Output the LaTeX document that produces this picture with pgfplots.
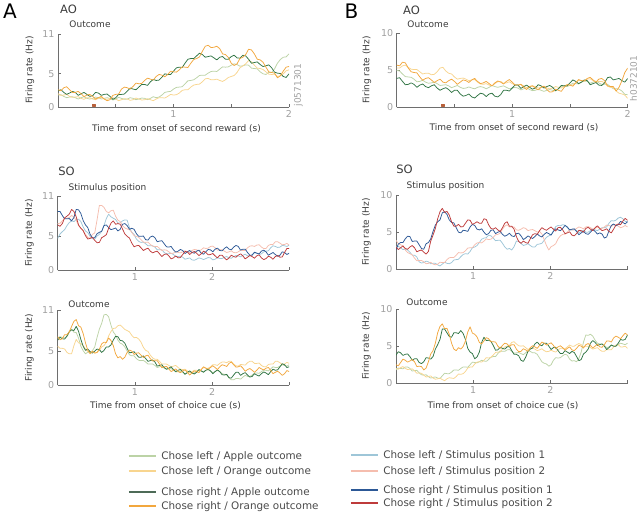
\documentclass[border=0pt]{standalone}
\usepackage{fontspec}
\setmainfont{DejaVu Sans}
\usepackage{pgfplots}
\usepackage{pgfplotstable}
\pgfplotsset{compat=1.18}

\definecolor{axgray}{HTML}{6E6E6E}
\definecolor{lblgray}{HTML}{A0A0A0}
\definecolor{txtgray}{HTML}{3A3A3A}
\definecolor{legtext}{HTML}{4A4A4A}
\definecolor{lgcol}{HTML}{BCD3A6}
\definecolor{locol}{HTML}{F8D58F}
\definecolor{dgcol}{HTML}{2F7443}
\definecolor{orcol}{HTML}{F2A73E}
\definecolor{dglegend}{HTML}{4D6B57}
\definecolor{lbcol}{HTML}{9EC6D8}
\definecolor{lpcol}{HTML}{F5BDAE}
\definecolor{dbcol}{HTML}{2C5896}
\definecolor{redtwo}{HTML}{BE3B3B}
\definecolor{mkcol}{HTML}{B8603A}

\pgfplotstableread{
x lg lo dg or
0.000 1.8 2.0 2.4 2.6
0.025 1.85 1.75 2.6 2.45
0.050 1.6 1.8 2.2 2.9
0.075 1.4 1.9 1.9 3.05
0.100 1.5 1.6 2.1 2.6
0.125 1.55 1.45 2.35 2.2
0.150 1.4 1.5 2.2 2.2
0.175 1.2 1.55 1.75 2.35
0.200 1.4 1.3 2.0 2.0
0.225 1.55 1.15 2.2 1.55
0.250 1.3 1.4 1.9 1.8
0.275 1.2 1.4 1.6 1.9
0.300 1.3 1.2 1.7 1.6
0.325 1.5 1.1 2.2 1.2
0.350 1.4 1.3 2.1 1.4
0.375 1.2 1.45 1.75 1.6
0.400 1.3 1.2 1.9 1.2
0.425 1.4 1.15 1.95 0.95
0.450 1.3 1.3 1.6 1.1
0.475 1.05 1.4 1.15 1.75
0.500 1.2 1.2 1.4 1.9
0.525 1.45 0.95 1.9 1.95
0.550 1.3 1.1 1.9 2.7
0.575 1.15 1.25 1.95 3.0
0.600 1.2 1.2 2.4 2.9
0.625 1.4 1.0 2.85 2.7
0.650 1.3 1.1 2.7 3.1
0.675 1.1 1.35 2.6 3.6
0.700 1.2 1.2 3.0 3.5
0.725 1.35 1.05 3.4 3.55
0.750 1.3 1.1 3.4 4.0
0.775 1.1 1.25 3.25 4.35
0.800 1.3 1.1 3.8 4.2
0.825 1.55 0.95 4.15 4.05
0.850 1.4 1.2 4.0 4.6
0.875 1.5 1.4 4.05 4.9
0.900 1.8 1.4 4.5 4.8
0.925 2.2 1.35 5.0 4.55
0.950 2.3 1.6 4.9 4.9
0.975 2.35 1.9 4.9 5.4
1.000 2.7 1.8 5.4 5.3
1.025 2.95 1.85 5.9 5.25
1.050 3.0 2.1 6.0 5.6
1.075 3.05 2.5 5.95 6.05
1.100 3.5 2.6 6.6 6.0
1.125 3.95 2.6 7.2 5.95
1.150 4.0 3.0 7.3 6.6
1.175 4.1 3.3 7.3 7.15
1.200 4.4 3.4 7.7 7.3
1.225 4.75 3.45 8.1 7.55
1.250 4.8 3.8 7.9 8.4
1.275 4.8 4.25 7.5 9.15
1.300 5.1 4.3 7.6 9.3
1.325 5.35 4.1 7.7 8.95
1.350 5.4 4.1 7.4 9.0
1.375 5.35 4.2 7.1 9.15
1.400 5.7 4.0 7.5 8.8
1.425 6.05 3.85 7.6 8.0
1.450 6.0 4.1 7.2 7.9
1.475 6.05 4.45 7.2 7.45
1.500 6.3 4.6 7.6 6.6
1.525 6.5 4.75 7.8 6.25
1.550 6.4 5.2 7.4 6.5
1.575 6.15 5.9 7.35 7.3
1.600 6.2 6.2 7.8 7.5
1.625 6.35 6.5 7.7 7.9
1.650 6.3 7.0 7.2 8.7
1.675 5.85 6.8 6.6 8.6
1.700 5.8 6.3 6.7 8.0
1.725 5.75 5.85 6.8 7.2
1.750 5.3 5.8 6.4 7.1
1.775 5.0 5.65 6.1 6.75
1.800 4.9 5.3 6.2 6.0
1.825 5.2 4.95 6.35 5.3
1.850 5.2 4.9 5.9 5.2
1.875 5.75 4.95 5.25 5.1
1.900 6.6 4.6 5.1 4.4
1.925 7.15 4.7 5.05 4.7
1.950 7.5 5.0 4.6 5.4
1.975 7.55 5.45 4.45 6.0
2.000 8.0 5.6 5.0 6.1
}\tAAO

\pgfplotstableread{
x lg lo dg or
0.000 5.0 5.3 3.9 5.7
0.025 4.9 5.3 4.0 5.6
0.050 4.5 5.6 3.5 6.1
0.075 4.15 5.7 3.05 6.0
0.100 4.1 5.4 3.1 5.3
0.125 4.05 5.15 3.3 4.8
0.150 3.8 5.1 3.1 4.7
0.175 3.45 5.1 2.7 4.65
0.200 3.5 4.8 3.0 4.1
0.225 3.65 4.5 3.15 3.65
0.250 3.4 4.6 2.8 3.9
0.275 3.25 4.6 2.65 4.0
0.300 3.3 4.4 2.9 3.7
0.325 3.4 4.45 3.05 3.35
0.350 3.2 4.8 2.6 3.6
0.375 2.95 5.3 2.3 3.8
0.400 3.0 5.4 2.5 3.4
0.425 3.05 4.9 2.65 3.3
0.450 2.9 4.6 2.4 3.6
0.475 2.65 4.5 2.0 3.8
0.500 2.8 4.1 2.3 3.5
0.525 2.95 3.8 2.3 3.1
0.550 2.7 3.9 1.8 3.4
0.575 2.55 3.95 1.5 3.7
0.600 2.6 3.8 1.6 3.6
0.625 2.75 3.6 1.8 3.35
0.650 2.6 3.7 1.4 3.7
0.675 2.5 3.75 1.25 3.9
0.700 2.7 3.4 1.6 3.5
0.725 2.8 3.15 1.9 3.2
0.750 2.7 3.1 1.8 3.3
0.775 2.5 3.2 1.45 3.5
0.800 2.7 3.0 1.8 3.2
0.825 2.95 2.9 1.9 2.9
0.850 2.8 3.2 1.5 3.3
0.875 2.7 3.45 1.4 3.55
0.900 2.8 3.5 1.7 3.4
0.925 2.9 3.25 2.3 3.15
0.950 2.7 3.3 2.3 3.5
0.975 2.5 3.45 2.2 3.75
1.000 2.6 3.2 2.6 3.4
1.025 2.7 3.0 3.0 3.0
1.050 2.6 3.0 3.0 3.0
1.075 2.35 3.1 2.55 3.1
1.100 2.5 2.9 2.8 2.7
1.125 2.65 2.65 3.0 2.4
1.150 2.4 2.8 2.7 2.8
1.175 2.25 2.9 2.45 2.9
1.200 2.3 2.8 2.6 2.6
1.225 2.45 2.6 3.05 2.35
1.250 2.3 2.7 2.9 2.7
1.275 2.15 2.85 2.6 2.85
1.300 2.3 2.6 2.8 2.4
1.325 2.4 2.5 2.95 2.05
1.350 2.3 2.6 2.7 2.1
1.375 2.2 2.8 2.25 2.45
1.400 2.5 2.7 2.5 2.3
1.425 2.85 2.6 2.95 2.15
1.450 2.8 2.9 2.9 2.7
1.475 2.8 3.05 2.9 3.05
1.500 3.0 3.0 3.3 3.0
1.525 3.25 3.0 3.7 2.85
1.550 3.2 3.3 3.5 3.3
1.575 3.15 3.65 3.2 3.75
1.600 3.4 3.6 3.4 3.6
1.625 3.55 3.6 3.7 3.55
1.650 3.5 3.8 3.6 3.9
1.675 3.25 3.85 3.05 4.05
1.700 3.4 3.6 3.2 3.7
1.725 3.55 3.35 3.35 3.4
1.750 3.3 3.5 3.0 3.8
1.775 3.1 3.5 2.95 3.9
1.800 3.1 3.3 3.3 3.6
1.825 3.1 2.85 4.0 2.9
1.850 2.8 2.7 4.1 2.8
1.875 2.5 2.65 3.7 2.8
1.900 2.5 2.2 3.8 2.2
1.925 2.45 1.9 3.9 2.7
1.950 2.2 1.8 3.6 3.6
1.975 1.75 1.65 3.4 4.7
2.000 1.7 1.2 3.9 5.3
}\tBAO

\pgfplotstableread{
x lb lp db rd
0.00 4.7 6.9 8.7 6.7
0.03 5.35 6.95 8.7 6.5
0.06 5.7 7.3 8.1 6.9
0.09 6.0 7.7 7.6 7.75
0.12 6.6 7.7 7.6 8.0
0.15 7.05 7.8 7.65 8.3
0.18 7.3 8.1 7.3 9.0
0.21 7.2 7.9 7.8 8.7
0.24 7.5 7.4 9.0 7.9
0.27 7.55 6.6 8.95 6.7
0.30 7.2 6.2 8.4 6.2
0.33 6.4 5.85 7.35 5.85
0.36 5.8 5.3 6.7 5.1
0.39 5.55 4.85 6.3 4.6
0.42 5.0 4.7 5.3 4.7
0.45 4.65 5.3 4.8 4.85
0.48 4.6 5.5 4.8 4.4
0.51 5.05 7.45 5.4 4.05
0.54 5.3 9.6 5.6 4.1
0.57 5.75 9.6 5.75 4.8
0.60 6.6 9.3 6.6 5.0
0.63 7.65 8.7 6.7 5.25
0.66 8.3 8.5 6.3 6.2
0.69 7.9 8.8 6.0 6.95
0.72 7.7 8.9 6.1 7.3
0.75 7.5 8.0 6.25 6.8
0.78 7.0 7.4 5.8 6.9
0.81 7.0 7.2 6.05 6.8
0.84 7.3 6.6 6.8 6.1
0.87 7.45 6.25 6.9 5.35
0.90 7.4 6.1 6.6 5.0
0.93 6.3 6.0 6.05 4.75
0.96 5.6 5.6 6.2 4.0
0.99 5.3 5.1 6.05 3.45
1.02 4.6 5.0 5.4 3.6
1.05 4.25 4.85 5.0 3.65
1.08 4.1 4.5 5.0 3.3
1.11 4.15 4.15 5.05 2.9
1.14 3.9 4.1 4.5 3.1
1.17 3.6 4.15 4.45 3.25
1.20 3.6 3.8 4.9 2.8
1.23 3.6 3.55 5.05 2.55
1.26 3.4 3.5 4.8 2.7
1.29 3.0 3.5 4.2 2.8
1.32 3.0 3.2 4.3 2.4
1.35 3.0 2.9 4.35 2.0
1.38 2.6 3.0 3.9 2.3
1.41 2.4 2.95 3.45 2.4
1.44 2.4 2.7 3.4 2.1
1.47 2.5 2.45 3.5 1.65
1.50 2.3 2.5 3.0 1.8
1.53 2.0 2.75 2.65 2.1
1.56 2.0 2.6 2.8 1.8
1.59 2.05 2.55 3.05 1.85
1.62 1.9 2.7 2.9 2.3
1.65 1.6 2.85 2.45 2.75
1.68 1.7 2.7 2.7 2.7
1.71 1.8 2.6 2.9 2.3
1.74 1.5 2.9 2.6 2.6
1.77 1.45 3.05 2.5 2.75
1.80 1.6 3.0 2.8 2.5
1.83 1.8 2.85 2.95 2.15
1.86 1.7 3.0 2.5 2.4
1.89 1.55 3.3 2.35 2.8
1.92 1.7 3.2 2.7 2.6
1.95 1.85 3.25 3.05 2.25
1.98 1.8 3.5 3.0 2.3
2.01 1.5 3.55 2.7 2.45
2.04 1.6 3.3 3.1 2.1
2.07 1.85 2.95 3.25 1.8
2.10 1.7 3.0 2.9 2.2
2.13 1.7 3.0 2.85 2.2
2.16 1.9 2.8 3.2 1.8
2.19 2.0 2.6 3.45 1.5
2.22 1.8 2.7 3.1 1.8
2.25 1.75 2.85 3.0 2.2
2.28 2.0 2.6 3.4 2.0
2.31 2.15 2.55 3.65 1.9
2.34 2.1 2.7 3.5 2.2
2.37 1.95 2.95 2.95 2.4
2.40 2.2 2.9 3.1 2.1
2.43 2.35 2.9 3.1 1.65
2.46 2.1 3.3 2.6 1.9
2.49 2.1 3.55 2.2 2.15
2.52 2.3 3.6 2.2 2.0
2.55 2.55 3.5 2.65 1.75
2.58 2.5 3.7 2.5 2.1
2.61 2.3 3.75 2.4 2.25
2.64 2.4 3.4 2.8 1.8
2.67 2.7 3.2 2.95 1.55
2.70 2.8 3.2 2.7 1.7
2.73 2.85 3.65 2.2 2.05
2.76 3.3 3.8 2.4 1.9
2.79 3.6 3.8 2.6 1.6
2.82 3.5 4.2 2.3 2.0
2.85 3.35 4.2 2.05 2.15
2.88 3.4 4.0 2.2 1.9
2.91 3.65 3.75 2.7 1.95
2.94 3.6 3.8 2.6 2.6
2.97 3.5 3.95 2.3 3.2
3.00 3.7 3.7 2.5 3.2
}\tASOS

\pgfplotstableread{
x lg lo dg or
0.00 6.9 5.7 6.6 7.1
0.03 7.1 5.4 7.0 6.65
0.06 7.0 5.4 6.8 6.8
0.09 6.9 5.3 6.75 7.4
0.12 7.1 4.8 7.2 7.4
0.15 7.75 4.6 7.85 7.8
0.18 8.2 4.6 8.1 8.6
0.21 7.75 5.8 8.0 9.35
0.24 7.7 6.7 8.6 9.6
0.27 6.9 6.2 7.9 8.7
0.30 5.7 6.1 6.7 8.5
0.33 5.05 5.8 5.7 7.55
0.36 4.6 5.3 5.1 6.2
0.39 4.85 4.95 5.3 5.1
0.42 4.8 4.9 4.9 4.6
0.45 5.05 5.0 4.7 4.95
0.48 5.6 4.7 5.0 4.7
0.51 7.0 4.8 5.3 4.8
0.54 8.2 5.1 5.2 5.3
0.57 9.05 5.6 4.8 6.05
0.60 10.3 5.8 5.1 6.3
0.63 10.35 6.3 5.6 6.25
0.66 10.0 7.2 5.6 6.9
0.69 8.8 7.85 5.9 6.55
0.72 7.8 8.3 6.6 5.8
0.75 7.35 8.35 7.15 4.6
0.78 6.6 8.7 7.1 4.0
0.81 6.15 8.8 6.55 4.2
0.84 6.0 8.5 6.5 3.8
0.87 5.6 8.15 6.15 4.1
0.90 5.0 8.0 5.4 4.8
0.93 4.45 7.8 4.75 5.15
0.96 4.3 7.3 4.8 5.0
0.99 4.3 6.95 4.9 4.5
1.02 3.9 7.0 4.5 4.7
1.05 3.65 6.75 4.1 4.75
1.08 3.6 6.3 4.1 4.4
1.11 3.65 5.55 4.3 4.05
1.14 3.4 5.1 3.9 4.3
1.17 3.1 4.95 3.5 4.4
1.20 3.1 4.4 3.6 3.9
1.23 3.1 4.0 3.7 3.55
1.26 2.9 3.8 3.4 3.6
1.29 2.6 3.8 2.8 3.6
1.32 2.7 3.5 2.9 3.1
1.35 2.8 3.1 3.0 2.55
1.38 2.5 3.1 2.6 2.7
1.41 2.35 3.1 2.35 2.75
1.44 2.4 2.9 2.5 2.4
1.47 2.45 2.7 2.7 2.0
1.50 2.2 2.8 2.3 2.2
1.53 1.95 2.9 2.0 2.4
1.56 2.0 2.6 2.2 2.0
1.59 2.05 2.35 2.3 1.85
1.62 1.9 2.3 2.0 2.1
1.65 1.65 2.35 1.6 2.25
1.68 1.8 2.1 1.9 1.9
1.71 2.0 1.85 2.1 1.5
1.74 1.8 2.0 1.8 1.8
1.77 1.8 2.2 1.65 2.1
1.80 2.0 2.2 1.9 2.0
1.83 2.2 2.1 2.3 1.85
1.86 2.1 2.3 2.1 2.3
1.89 2.0 2.6 1.9 2.7
1.92 2.2 2.5 2.2 2.5
1.95 2.25 2.5 2.35 2.35
1.98 2.1 2.7 2.1 2.6
2.01 1.85 3.0 1.7 2.85
2.04 2.0 3.0 2.0 2.6
2.07 2.2 2.9 2.25 2.3
2.10 2.0 3.2 2.0 2.7
2.13 1.7 3.4 1.55 3.0
2.16 1.6 3.4 1.5 2.9
2.19 1.5 3.3 1.6 2.75
2.22 1.1 3.5 1.1 3.2
2.25 0.8 3.5 1.05 3.4
2.28 0.8 3.1 1.5 3.0
2.31 1.0 2.85 1.9 2.65
2.34 1.0 2.8 1.9 2.7
2.37 0.9 3.05 1.45 2.85
2.40 1.2 3.0 1.7 2.5
2.43 1.45 2.95 1.85 2.05
2.46 1.3 3.3 1.5 2.3
2.49 1.3 3.5 1.2 2.45
2.52 1.5 3.5 1.3 2.2
2.55 1.8 3.2 1.7 1.9
2.58 1.8 3.2 1.5 2.2
2.61 1.75 3.25 1.35 2.6
2.64 2.0 2.9 1.7 2.4
2.67 2.2 2.7 1.95 2.25
2.70 2.2 2.7 1.8 2.5
2.73 2.1 3.05 1.55 2.6
2.76 2.4 3.1 2.0 2.2
2.79 2.7 3.1 2.35 1.7
2.82 2.6 3.5 2.2 1.9
2.85 2.6 3.5 2.25 2.05
2.88 2.8 3.3 2.7 1.8
2.91 3.0 3.05 3.15 1.45
2.94 2.9 3.1 3.0 1.7
2.97 2.8 3.35 2.6 2.15
3.00 3.0 3.2 2.7 2.0
}\tASOO

\pgfplotstableread{
x lb lp db rd
0.00 3.0 3.9 2.6 3.0
0.03 3.1 3.45 3.4 2.65
0.06 2.9 3.3 3.6 2.9
0.09 2.65 3.15 3.6 3.15
0.12 2.7 2.6 4.1 2.8
0.15 2.6 2.25 4.45 2.7
0.18 2.3 2.1 4.4 3.0
0.21 1.9 1.95 3.75 3.2
0.24 1.9 1.5 3.8 2.9
0.27 1.65 1.15 3.8 2.35
0.30 1.0 1.2 3.3 2.5
0.33 0.85 1.2 2.8 2.6
0.36 0.9 1.0 2.7 2.3
0.39 1.1 0.75 3.45 2.05
0.42 1.0 0.8 3.6 2.4
0.45 0.75 0.95 4.1 3.8
0.48 0.8 0.7 5.1 4.6
0.51 0.8 0.6 5.95 5.5
0.54 0.6 0.7 6.4 6.8
0.57 0.45 0.95 6.65 7.75
0.60 0.7 0.9 7.6 8.2
0.63 0.95 0.9 7.75 7.65
0.66 0.8 1.3 7.4 7.8
0.69 0.75 1.55 6.65 7.3
0.72 0.9 1.6 6.3 6.4
0.75 1.25 1.6 6.25 5.8
0.78 1.3 1.9 5.6 5.8
0.81 1.35 2.25 5.0 6.05
0.84 1.7 2.2 4.9 5.7
0.87 2.0 2.25 5.25 5.75
0.90 2.1 2.5 5.2 6.2
0.93 2.05 2.85 5.1 6.65
0.96 2.4 2.9 5.7 6.6
0.99 2.9 2.9 6.05 6.05
1.02 3.0 3.3 5.9 6.2
1.05 3.2 3.55 5.4 6.4
1.08 3.6 3.6 5.3 6.2
1.11 4.05 3.55 5.45 6.2
1.14 4.2 3.8 5.0 6.8
1.17 4.25 4.1 4.65 6.7
1.20 4.6 4.0 4.8 6.0
1.23 4.5 4.05 5.25 5.5
1.26 4.2 4.3 5.3 5.4
1.29 3.85 4.65 4.8 5.6
1.32 3.9 4.7 5.0 5.3
1.35 3.9 4.85 5.1 5.1
1.38 3.5 5.4 4.7 5.6
1.41 3.0 5.8 4.45 6.2
1.44 2.7 6.0 4.6 6.4
1.47 2.8 5.7 4.85 5.8
1.50 2.6 5.7 4.5 5.8
1.53 3.05 5.7 4.4 5.4
1.56 3.8 5.3 4.8 4.4
1.59 3.75 5.25 4.85 3.75
1.62 3.5 5.4 4.5 3.5
1.65 3.2 5.6 4.0 3.8
1.68 3.3 5.5 4.2 3.6
1.71 3.45 5.2 4.5 3.5
1.74 3.2 5.3 4.3 4.1
1.77 3.0 5.35 4.15 4.65
1.80 3.0 5.2 4.4 4.8
1.83 3.35 5.0 4.75 4.7
1.86 3.4 5.1 4.5 5.2
1.89 3.5 4.75 4.35 5.6
1.92 3.9 4.0 4.7 5.4
1.95 4.3 3.2 4.95 5.25
1.98 4.5 2.6 4.8 5.5
2.01 4.65 3.05 4.6 5.7
2.04 5.2 3.2 5.1 5.4
2.07 5.75 3.45 5.45 5.15
2.10 5.9 4.1 5.3 5.6
2.13 5.85 4.5 5.2 5.65
2.16 6.0 4.7 5.5 5.3
2.19 5.95 4.7 5.9 4.8
2.22 5.6 5.0 5.7 4.9
2.25 5.3 5.35 5.3 5.05
2.28 5.3 5.3 5.4 4.6
2.31 5.35 5.3 5.45 4.5
2.34 5.2 5.5 5.1 4.8
2.37 4.95 5.7 4.65 5.25
2.40 5.1 5.6 4.9 5.2
2.43 5.25 5.45 5.1 5.0
2.46 5.0 5.7 4.8 5.5
2.49 5.0 5.75 4.7 5.65
2.52 5.2 5.6 5.0 5.4
2.55 5.4 5.4 5.35 5.2
2.58 5.3 5.5 5.1 5.6
2.61 5.2 5.7 4.75 5.85
2.64 5.4 5.5 4.9 5.5
2.67 5.6 5.5 4.75 5.2
2.70 5.6 5.7 4.2 5.3
2.73 5.7 5.95 4.35 5.45
2.76 6.2 5.9 5.2 5.1
2.79 6.55 5.75 5.9 4.9
2.82 6.5 6.0 6.1 5.4
2.85 6.6 6.0 5.85 5.95
2.88 6.9 5.8 6.0 6.1
2.91 7.0 5.6 6.45 6.0
2.94 6.8 5.7 6.3 6.5
2.97 6.45 5.9 6.1 6.85
3.00 6.4 5.7 6.4 6.6
}\tBSOS

\pgfplotstableread{
x lg lo dg or
0.00 1.8 2.0 3.8 2.5
0.03 2.05 1.9 4.25 2.35
0.06 2.0 2.1 4.1 2.8
0.09 1.95 2.25 3.75 3.25
0.12 2.2 2.0 3.9 3.1
0.15 2.2 1.85 3.95 2.85
0.18 2.0 1.9 3.6 3.0
0.21 1.65 1.95 3.1 3.2
0.24 1.7 1.7 3.3 2.9
0.27 1.75 1.35 3.3 2.25
0.30 1.4 1.4 2.8 2.3
0.33 1.15 1.35 2.65 2.25
0.36 1.1 1.1 2.9 1.8
0.39 1.15 0.85 3.45 2.05
0.42 0.9 0.9 3.4 2.9
0.45 0.7 1.0 3.25 3.95
0.48 0.8 0.7 3.6 4.4
0.51 0.85 0.55 4.6 5.4
0.54 0.7 0.6 5.2 6.8
0.57 0.65 0.7 5.9 7.65
0.60 1.0 0.5 7.3 8.0
0.63 1.35 0.35 7.3 7.35
0.66 1.3 0.6 6.8 7.4
0.69 1.3 0.75 6.3 6.6
0.72 1.5 0.7 6.2 5.4
0.75 1.8 0.65 6.8 4.6
0.78 1.8 0.9 6.8 4.4
0.81 1.75 1.25 6.7 4.8
0.84 2.0 1.2 7.1 4.6
0.87 2.2 1.3 6.7 4.95
0.90 2.2 1.6 5.9 5.7
0.93 2.15 2.05 4.7 6.9
0.96 2.5 2.2 4.2 7.6
0.99 2.85 2.2 4.0 6.75
1.02 2.8 2.6 3.3 6.6
1.05 2.75 2.85 3.55 6.25
1.08 2.9 2.9 4.2 5.5
1.11 3.1 2.85 5.5 5.3
1.14 3.0 3.1 6.2 5.7
1.17 2.95 3.45 5.75 6.15
1.20 3.2 3.4 5.8 6.0
1.23 3.5 3.5 5.65 5.6
1.26 3.6 3.8 5.1 5.6
1.29 3.6 4.15 4.45 5.55
1.32 4.0 4.2 4.5 5.0
1.35 4.35 4.2 4.85 4.7
1.38 4.3 4.6 4.7 5.1
1.41 4.3 4.9 4.6 5.4
1.44 4.5 5.0 4.9 5.3
1.47 4.55 5.1 4.95 4.95
1.50 4.3 5.5 4.4 5.2
1.53 4.05 5.6 3.9 5.2
1.56 4.1 5.3 3.9 4.6
1.59 4.15 5.05 3.7 4.25
1.62 4.0 5.0 3.1 4.3
1.65 3.85 5.05 2.95 4.65
1.68 4.1 4.8 3.5 4.5
1.71 4.4 4.55 4.3 4.3
1.74 4.3 4.7 4.6 4.8
1.77 4.1 4.75 4.75 5.05
1.80 4.1 4.6 5.3 4.9
1.83 3.9 4.4 5.55 4.7
1.86 3.4 4.5 5.2 5.1
1.89 2.9 4.65 5.05 5.55
1.92 2.7 4.4 5.4 5.4
1.95 2.6 4.25 5.4 5.15
1.98 2.3 4.3 5.0 5.3
2.01 2.5 4.45 4.55 5.45
2.04 3.1 4.3 4.8 5.1
2.07 3.45 4.2 4.85 4.65
2.10 3.4 4.5 4.4 4.9
2.13 3.45 4.7 4.0 5.05
2.16 3.7 4.7 4.0 4.8
2.19 3.9 4.65 4.4 4.45
2.22 3.8 4.9 4.2 4.7
2.25 3.25 5.15 4.0 4.9
2.28 3.0 5.0 4.3 4.5
2.31 3.05 5.0 4.15 4.4
2.34 2.9 5.2 3.6 4.7
2.37 3.35 5.35 3.05 5.1
2.40 4.2 5.2 3.2 5.0
2.43 5.55 4.9 3.95 4.75
2.46 6.5 5.0 4.2 5.2
2.49 6.45 5.0 4.6 5.35
2.52 6.6 4.8 5.4 5.1
2.55 6.35 4.6 5.75 4.75
2.58 5.8 4.7 5.5 5.0
2.61 5.4 4.8 5.1 5.25
2.64 5.3 4.5 5.2 4.9
2.67 5.3 4.3 5.3 4.85
2.70 5.1 4.3 5.0 5.2
2.73 4.8 4.55 4.55 5.7
2.76 4.9 4.5 4.8 5.7
2.79 5.15 4.5 5.15 5.55
2.82 5.0 4.9 5.0 6.1
2.85 5.0 5.15 5.0 6.35
2.88 5.2 5.2 5.4 6.2
2.91 5.4 4.9 5.9 6.0
2.94 5.3 4.9 5.8 6.4
2.97 5.2 5.0 5.9 6.75
3.00 5.4 4.7 6.5 6.5
}\tBSOO

\pgfplotsset{
  panel/.style={
    scale only axis, anchor=south west,
    axis x line*=bottom, axis y line*=left,
    axis line style={draw=axgray, line width=0.9pt},
    every tick/.style={draw=axgray, line width=0.7pt},
    tick align=inside, major tick length=3pt, minor tick length=3pt,
    ticklabel style={text=lblgray, font=\fontsize{9.5}{10}\selectfont},
    /pgf/number format/assume math mode=true,
    xmin=0, ymin=0,
    every axis plot/.append style={line width=0.75pt, line join=round},
  },
  aopanel/.style={panel, xmax=2, xtick={1,2}, minor xtick={0.5,1.5}, width=231pt},
  sopanel/.style={panel, xmax=3, xtick={1,2,3}, xticklabels={1,2,{}}, width=231.5pt},
  legbox/.style={
    hide axis, scale only axis, width=1pt, height=1pt,
    xmin=0, xmax=1, ymin=0, ymax=1, anchor=south west,
    legend style={at={(0,0)}, anchor=west, draw=none, fill=none,
      inner sep=0pt, outer sep=0pt,
      font=\fontsize{10.4}{12}\selectfont, text=legtext,
      nodes={inner sep=0pt}, /tikz/column sep=4.5pt},
    legend image code/.code={\draw[line width=1.8pt, ##1] (0pt,0pt) -- (27pt,0pt);},
  },
}

\begin{document}
\begin{tikzpicture}[x=1pt, y=1pt]
\path[use as bounding box] (0,0) rectangle (640,513);

% ---------------- legends ----------------
\begin{axis}[legbox, at={(128pt,57pt)}]
\addlegendimage{draw=lgcol}\addlegendentry{Chose left / Apple outcome}
\end{axis}
\begin{axis}[legbox, at={(128pt,42pt)}]
\addlegendimage{draw=locol}\addlegendentry{Chose left / Orange outcome}
\end{axis}
\begin{axis}[legbox, at={(128pt,21pt)}]
\addlegendimage{draw=dglegend}\addlegendentry{Chose right / Apple outcome}
\end{axis}
\begin{axis}[legbox, at={(128pt,7pt)}]
\addlegendimage{draw=orcol}\addlegendentry{Chose right / Orange outcome}
\end{axis}
\begin{axis}[legbox, at={(350pt,58pt)}]
\addlegendimage{draw=lbcol}\addlegendentry{Chose left / Stimulus position 1}
\end{axis}
\begin{axis}[legbox, at={(350pt,42pt)}]
\addlegendimage{draw=lpcol}\addlegendentry{Chose left / Stimulus position 2}
\end{axis}
\begin{axis}[legbox, at={(350pt,23pt)}]
\addlegendimage{draw=dbcol}\addlegendentry{Chose right / Stimulus position 1}
\end{axis}
\begin{axis}[legbox, at={(350pt,10pt)}]
\addlegendimage{draw=redtwo}\addlegendentry{Chose right / Stimulus position 2}
\end{axis}

% ---------------- A, AO ----------------
\begin{axis}[aopanel, at={(58pt,406pt)}, height=73pt, ymax=11, ytick={0,5,11}]
\addplot[lgcol] table[x=x, y=lg] {\tAAO};
\addplot[locol] table[x=x, y=lo] {\tAAO};
\addplot[dgcol] table[x=x, y=dg] {\tAAO};
\addplot[orcol] table[x=x, y=or] {\tAAO};
\addplot[only marks, mark=square*, mark size=1.3pt, color=mkcol] coordinates {(0.31,0.25)};
\end{axis}

% ---------------- B, AO ----------------
\begin{axis}[aopanel, at={(396.7pt,405.7pt)}, height=74pt, ymax=10, ytick={0,5,10}]
\addplot[lgcol] table[x=x, y=lg] {\tBAO};
\addplot[locol] table[x=x, y=lo] {\tBAO};
\addplot[dgcol] table[x=x, y=dg] {\tBAO};
\addplot[orcol] table[x=x, y=or] {\tBAO};
\addplot[only marks, mark=square*, mark size=1.3pt, color=mkcol] coordinates {(0.40,0.25)};
\end{axis}

% ---------------- A, SO stimulus ----------------
\begin{axis}[sopanel, at={(57.7pt,243pt)}, height=74pt, ymax=11, ytick={0,5,11}]
\addplot[lbcol] table[x=x, y=lb] {\tASOS};
\addplot[lpcol] table[x=x, y=lp] {\tASOS};
\addplot[dbcol] table[x=x, y=db] {\tASOS};
\addplot[redtwo] table[x=x, y=rd] {\tASOS};
\end{axis}

% ---------------- A, SO outcome ----------------
\begin{axis}[sopanel, at={(57.7pt,127.7pt)}, height=75.3pt, ymax=11, ytick={0,5,11}]
\addplot[lgcol] table[x=x, y=lg] {\tASOO};
\addplot[locol] table[x=x, y=lo] {\tASOO};
\addplot[dgcol] table[x=x, y=dg] {\tASOO};
\addplot[orcol] table[x=x, y=or] {\tASOO};
\end{axis}

% ---------------- B, SO stimulus ----------------
\begin{axis}[sopanel, at={(396pt,243.7pt)}, height=74.3pt, ymax=10, ytick={0,5,10}]
\addplot[lbcol] table[x=x, y=lb] {\tBSOS};
\addplot[lpcol] table[x=x, y=lp] {\tBSOS};
\addplot[dbcol] table[x=x, y=db] {\tBSOS};
\addplot[redtwo] table[x=x, y=rd] {\tBSOS};
\end{axis}

% ---------------- B, SO outcome ----------------
\begin{axis}[sopanel, at={(396pt,129.7pt)}, height=74.3pt, ymax=10, ytick={0,5,10}]
\addplot[lgcol] table[x=x, y=lg] {\tBSOO};
\addplot[locol] table[x=x, y=lo] {\tBSOO};
\addplot[dgcol] table[x=x, y=dg] {\tBSOO};
\addplot[orcol] table[x=x, y=or] {\tBSOO};
\end{axis}

% ---------------- text ----------------
\node[font=\fontsize{20}{20}\selectfont] at (10,501.5) {A};
\node[font=\fontsize{20}{20}\selectfont] at (351.5,501.5) {B};
\node[font=\fontsize{11.5}{12}\selectfont, text=txtgray] at (68.5,503.5) {AO};
\node[font=\fontsize{11.5}{12}\selectfont, text=txtgray] at (411.5,503) {AO};
\node[font=\fontsize{11.5}{12}\selectfont, text=txtgray] at (66.5,342) {SO};
\node[font=\fontsize{11.5}{12}\selectfont, text=txtgray] at (404.5,344) {SO};
\begin{scope}[every node/.style={font=\fontsize{9}{10}\selectfont, text=txtgray}]
\node at (90,488.5) {Outcome};
\node at (428,488.5) {Outcome};
\node at (107.5,325) {Stimulus position};
\node at (445.5,326.5) {Stimulus position};
\node at (89,209) {Outcome};
\node at (427,210.5) {Outcome};
\node at (176.5,384) {Time from onset of second reward (s)};
\node at (514,385) {Time from onset of second reward (s)};
\node at (165.5,107) {Time from onset of choice cue (s)};
\node at (503,107.5) {Time from onset of choice cue (s)};
\node[rotate=90] at (30,443) {Firing rate (Hz)};
\node[rotate=90] at (367,443) {Firing rate (Hz)};
\node[rotate=90] at (29.5,280) {Firing rate (Hz)};
\node[rotate=90] at (366.5,281) {Firing rate (Hz)};
\node[rotate=90] at (29.5,165.5) {Firing rate (Hz)};
\node[rotate=90] at (366.5,167) {Firing rate (Hz)};
\end{scope}
\node[rotate=90, font=\fontsize{9}{10}\selectfont, text=lblgray] at (298.5,428) {j0571301};
\node[rotate=90, font=\fontsize{9}{10}\selectfont, text=lblgray] at (633.5,434.5) {h0372101};
\end{tikzpicture}
\end{document}
